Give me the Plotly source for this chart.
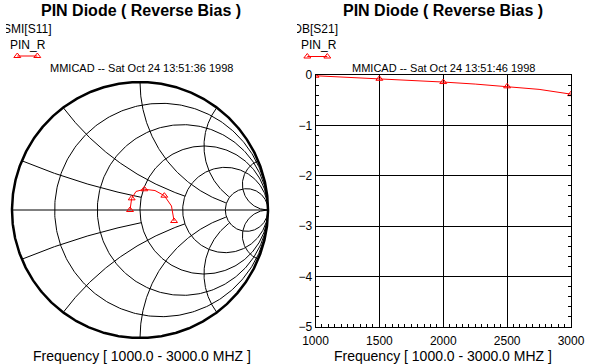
import numpy as np
import plotly.graph_objects as go

W, H = 590, 364
FONT = "Liberation Sans, Arial, sans-serif"

# ---------------- data ----------------
freq_mhz = [1000, 1250, 1500, 1750, 2000, 2250, 2500, 2750, 3000]
s11_re = [-0.078, -0.073, -0.065, -0.031, 0.034, 0.117, 0.190, 0.246, 0.266]
s11_im = [0.000, 0.039, 0.091, 0.145, 0.162, 0.152, 0.112, 0.031, -0.086]
# S21 in dB
s21_db = [-0.015, -0.045, -0.075, -0.105, -0.140, -0.180, -0.225, -0.285, -0.380]
marker_freqs = [1000, 1500, 2000, 2500, 3000]

x_tick_vals = [1000, 1500, 2000, 2500, 3000]
y_tick_vals = [0, -1, -2, -3, -4, -5]

smith_resistances = [0.2, 0.5, 1, 2, 5]
smith_reactances = [0.2, 0.5, 1, 2, 5]
smith_reactance_stop = [1, 2, 5, 5, None]   # resistance circle where each arc ends

title_text = "PIN Diode ( Reverse Bias )"
left_label = "SMI[S11]"
right_label = "DB[S21]"
series_name = "PIN_R"
left_stamp = "MMICAD -- Sat Oct 24 13:51:36 1998"
right_stamp = "MMICAD -- Sat Oct 24 13:51:46 1998"
freq_title = "Frequency [ 1000.0 - 3000.0 MHZ ]"

RED = "#ff0000"

# ---------------- Smith grid geometry ----------------
def res_circle(r):
    t = np.linspace(0, 2 * np.pi, 361)
    c = r / (1 + r)
    rad = 1 / (1 + r)
    return list(c + rad * np.cos(t)), list(rad * np.sin(t))

def react_arc(x, rend):
    rmax = 1e4 if rend is None else rend
    r = np.concatenate([[0.0], np.geomspace(1e-3, rmax, 400)])
    z = r + 1j * x
    g = (z - 1) / (z + 1)
    return list(g.real), list(g.imag)

gx, gy = [], []
for r in smith_resistances:
    a, b = res_circle(r)
    gx += a + [None]
    gy += b + [None]
for xv, stop in zip(smith_reactances, smith_reactance_stop):
    for s in (1, -1):
        a, b = react_arc(s * xv, stop)
        gx += a + [None]
        gy += b + [None]
gx += [-1, 1]
gy += [0, 0]

t = np.linspace(0, 2 * np.pi, 721)
ox, oy = list(np.cos(t)), list(np.sin(t))

mk_idx = [freq_mhz.index(f) for f in marker_freqs]

fig = go.Figure()

# Smith chart (x2/y2)
fig.add_trace(go.Scatter(x=gx, y=gy, mode="lines", line=dict(color="black", width=1),
                         xaxis="x2", yaxis="y2", hoverinfo="skip"))
fig.add_trace(go.Scatter(x=ox, y=oy, mode="lines", line=dict(color="black", width=2.5),
                         xaxis="x2", yaxis="y2", hoverinfo="skip"))
fig.add_trace(go.Scatter(x=s11_re, y=s11_im, mode="lines", line=dict(color=RED, width=1),
                         xaxis="x2", yaxis="y2"))
fig.add_trace(go.Scatter(x=[s11_re[i] for i in mk_idx], y=[s11_im[i] for i in mk_idx],
                         mode="markers",
                         marker=dict(symbol="triangle-up-open", size=6, color=RED,
                                     line=dict(width=1, color=RED)),
                         xaxis="x2", yaxis="y2"))

# S21 cartesian (x/y)
fig.add_trace(go.Scatter(x=freq_mhz, y=s21_db, mode="lines", line=dict(color=RED, width=1),
                         xaxis="x", yaxis="y"))
fig.add_trace(go.Scatter(x=[freq_mhz[i] for i in mk_idx], y=[s21_db[i] for i in mk_idx],
                         mode="markers",
                         marker=dict(symbol="triangle-up-open", size=6, color=RED,
                                     line=dict(width=1, color=RED)),
                         xaxis="x", yaxis="y"))

# pixel overlay axes for legend keys and clipped labels
legend_marker = dict(symbol="triangle-up-open", size=6, color=RED, line=dict(width=1, color=RED))
fig.add_trace(go.Scatter(x=[17.3, 37.3], y=[56, 56], mode="lines+markers",
                         line=dict(color=RED, width=1), marker=legend_marker,
                         xaxis="x3", yaxis="y3", hoverinfo="skip"))
fig.add_trace(go.Scatter(x=[3], y=[29.5], mode="text", text=[left_label],
                         textposition="middle right",
                         textfont=dict(size=12, color="black", family=FONT),
                         xaxis="x3", yaxis="y3", cliponaxis=True, hoverinfo="skip"))
fig.add_trace(go.Scatter(x=[307.3, 327.3], y=[56.5, 56.5], mode="lines+markers",
                         line=dict(color=RED, width=1), marker=legend_marker,
                         xaxis="x4", yaxis="y4", hoverinfo="skip"))
fig.add_trace(go.Scatter(x=[293.3], y=[29.5], mode="text", text=[right_label],
                         textposition="middle right",
                         textfont=dict(size=12, color="black", family=FONT),
                         xaxis="x4", yaxis="y4", cliponaxis=True, hoverinfo="skip"))

# Smith domain
cx, cy, R = 140.0, 210.0, 128.0
ext = 1.03
sx_dom = [(cx - ext * R) / W, (cx + ext * R) / W]
sy_dom = [1 - (cy + ext * R) / H, 1 - (cy - ext * R) / H]

axis_common = dict(showgrid=True, gridcolor="black", gridwidth=1, showline=True,
                   linecolor="black", linewidth=1, zeroline=False, automargin=False,
                   ticks="inside", ticklen=3, tickcolor="black", tickwidth=1,
                   tickfont=dict(size=12, color="black", family=FONT))
hidden = dict(visible=False, automargin=False, showgrid=False, zeroline=False)

fig.update_layout(
    template="none",
    width=W, height=H, autosize=False,
    margin=dict(l=0, r=0, t=0, b=0, pad=0, autoexpand=False),
    paper_bgcolor="white", plot_bgcolor="rgba(0,0,0,0)",
    showlegend=False,
    font=dict(family=FONT, color="black"),
    xaxis=dict(domain=[315.5 / W, 571 / W], range=[1000, 3000], anchor="y",
               tickmode="array", tickvals=x_tick_vals, mirror=True,
               ticklabelstandoff=3,
               minor=dict(dtick=50, tick0=1000, ticks="inside", ticklen=3,
                          tickcolor="black", showgrid=False),
               **axis_common),
    yaxis=dict(domain=[1 - 327 / H, 1 - 75 / H], range=[-5, 0], anchor="x",
               tickmode="array", tickvals=y_tick_vals, mirror="ticks",
               minor=dict(dtick=0.2, tick0=0, ticks="inside", ticklen=3,
                          tickcolor="black", showgrid=False),
               **axis_common),
    xaxis2=dict(domain=sx_dom, range=[-ext, ext], anchor="y2", **hidden),
    yaxis2=dict(domain=sy_dom, range=[-ext, ext], anchor="x2", **hidden),
    xaxis3=dict(domain=[6 / W, 295 / W], range=[6, 295], anchor="y3", **hidden),
    yaxis3=dict(domain=[0, 1], range=[H, 0], anchor="x3", **hidden),
    xaxis4=dict(domain=[297 / W, 1], range=[297, W], anchor="y4", **hidden),
    yaxis4=dict(domain=[0, 1], range=[H, 0], anchor="x4", **hidden),
)

def ann(text, px, py, size, xanchor="center", bold=False):
    fig.add_annotation(text=("<b>%s</b>" % text) if bold else text,
                       x=px / W, y=1 - py / H, xref="paper", yref="paper",
                       xanchor=xanchor, yanchor="middle", showarrow=False,
                       font=dict(size=size, color="black", family=FONT))

ann(title_text, 140.5, 10.5, 16, bold=True)
ann(title_text, 442.5, 10.5, 16, bold=True)
ann(series_name, 8, 44.5, 12, xanchor="left")
ann(series_name, 299, 44.5, 12, xanchor="left")
ann(left_stamp, 141, 67.5, 11)
ann(right_stamp, 443.3, 67.5, 11)
ann(freq_title, 142, 355.5, 14)
ann(freq_title, 442.5, 355.5, 14)

fig.write_html(
    "out.html",
    config={"displayModeBar": False, "staticPlot": True},
    post_script="document.body.style.margin='0';document.body.style.overflow='hidden';",
)
